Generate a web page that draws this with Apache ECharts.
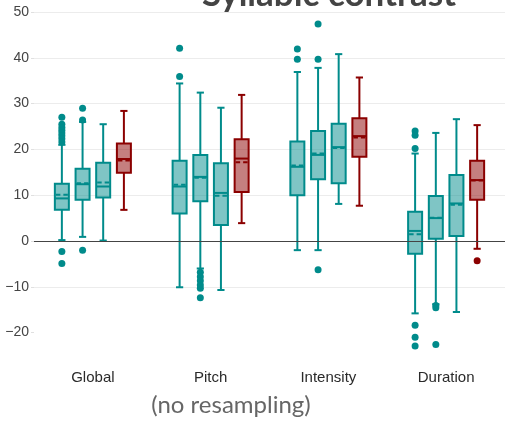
<!DOCTYPE html>
<html>
<head>
<meta charset="utf-8">
<script src="https://cdn.jsdelivr.net/npm/echarts@6/dist/echarts.min.js"></script>
<style>html,body{margin:0;padding:0;background:#fff;}#c{width:508px;height:422px;}</style>
</head>
<body>
<div id="c"></div>
<script>
// ---- data ----
const categories = ['Global', 'Pitch', 'Intensity', 'Duration'];
const yTicks = [-20, -10, 0, 10, 20, 30, 40, 50];

// series A (teal)
const aLow  = [0.2, -10.1, -2.0, -15.8];
const aQ1   = [6.8, 6.0, 10.0, -2.8];
const aMed  = [9.3, 11.9, 16.2, 2.2];
const aQ3   = [12.5, 17.5, 21.7, 6.4];
const aHigh = [21.0, 34.4, 36.9, 19.1];
const aMean = [10.1, 12.3, 16.5, 1.5];
const aOut  = [[0, 27.0], [0, 25.5], [0, 24.8], [0, 24.2], [0, 23.6], [0, 23.0], [0, 22.3], [0, 21.6], [0, -2.3], [0, -4.9],
               [1, 42.1], [1, 35.9],
               [2, 41.9], [2, 39.7],
               [3, 24.0], [3, 23.1], [3, 20.2], [3, -18.4], [3, -21.0], [3, -22.9]];

// series B (teal)
const bLow  = [0.9, -6.0, -2.0, -13.8];
const bQ1   = [9.0, 8.7, 13.5, 0.5];
const bMed  = [12.4, 14.0, 18.8, 5.0];
const bQ3   = [15.8, 18.8, 24.0, 9.8];
const bHigh = [26.0, 32.4, 37.8, 23.6];
const bMean = [12.6, 13.8, 19.1, 5.1];
const bOut  = [[0, 29.0], [0, 26.4], [0, -2.0],
               [1, -6.8], [1, -7.8], [1, -8.7], [1, -9.6], [1, -10.3], [1, -12.4],
               [2, 47.4], [2, 39.7], [2, -6.3],
               [3, -14.1], [3, -14.6], [3, -22.6]];

// series C (teal)
const cLow  = [0.1, -10.7, 8.1, -15.5];
const cQ1   = [9.5, 3.5, 12.6, 1.1];
const cMed  = [11.9, 10.5, 20.5, 8.2];
const cQ3   = [17.1, 17.0, 25.6, 14.4];
const cHigh = [25.5, 29.1, 40.8, 26.6];
const cMean = [12.8, 9.9, 20.3, 7.9];
const cOut  = [];

// series D (dark red)
const dLow  = [6.8, 3.9, 7.7, -1.7];
const dQ1   = [14.9, 10.7, 18.4, 9.0];
const dMed  = [17.9, 18.0, 22.9, 13.3];
const dQ3   = [21.3, 22.2, 26.8, 17.5];
const dHigh = [28.4, 31.9, 35.7, 25.3];
const dMean = [17.6, 17.2, 22.6, 13.2];
const dOut  = [[3, -4.3]];

// ---- styling ----
const TEAL = '#008b8b', TEAL_FILL = 'rgba(0,139,139,0.5)';
const RED = '#8b0000', RED_FILL = 'rgba(139,0,0,0.5)';
const offsetFrac = [-0.2634, -0.0875, 0.0875, 0.2634];

const groups = [
  {name: 'A', low: aLow, q1: aQ1, med: aMed, q3: aQ3, high: aHigh, mean: aMean, out: aOut, color: TEAL, fill: TEAL_FILL},
  {name: 'B', low: bLow, q1: bQ1, med: bMed, q3: bQ3, high: bHigh, mean: bMean, out: bOut, color: TEAL, fill: TEAL_FILL},
  {name: 'C', low: cLow, q1: cQ1, med: cMed, q3: cQ3, high: cHigh, mean: cMean, out: cOut, color: TEAL, fill: TEAL_FILL},
  {name: 'D', low: dLow, q1: dQ1, med: dMed, q3: dQ3, high: dHigh, mean: dMean, out: dOut, color: RED, fill: RED_FILL}
];

function makeBoxRender(gi, color, fill) {
  return function (params, api) {
    const cat = api.value(0);
    const band = api.size([1, 0])[0];
    const x = api.coord([cat, 0])[0] + offsetFrac[gi] * band;
    const Y = v => api.coord([cat, v])[1];
    const lo = Y(api.value(1)), q1 = Y(api.value(2)), md = Y(api.value(3)),
          q3 = Y(api.value(4)), hi = Y(api.value(5)), mn = Y(api.value(6));
    const hw = 7, cap = 3.6;
    const ls = {stroke: color, lineWidth: 2};
    return {
      type: 'group',
      children: [
        {type: 'line', shape: {x1: x, y1: q1, x2: x, y2: lo}, style: ls},
        {type: 'line', shape: {x1: x, y1: q3, x2: x, y2: hi}, style: ls},
        {type: 'line', shape: {x1: x - cap, y1: lo, x2: x + cap, y2: lo}, style: ls},
        {type: 'line', shape: {x1: x - cap, y1: hi, x2: x + cap, y2: hi}, style: ls},
        {type: 'rect', shape: {x: x - hw, y: q3, width: 2 * hw, height: q1 - q3}, style: {fill: fill, stroke: color, lineWidth: 2}},
        {type: 'line', shape: {x1: x - hw, y1: md, x2: x + hw, y2: md}, style: ls},
        {type: 'line', shape: {x1: x - 6, y1: mn, x2: x + 6, y2: mn}, style: {stroke: color, lineWidth: 2, lineDash: [4.5, 3]}}
      ]
    };
  };
}
function makeOutRender(gi, color) {
  return function (params, api) {
    const cat = api.value(0);
    const band = api.size([1, 0])[0];
    const p = api.coord([cat, api.value(1)]);
    return {type: 'circle', shape: {cx: p[0] + offsetFrac[gi] * band, cy: p[1], r: 3.5}, style: {fill: color}};
  };
}

const series = [
  {type: 'line', data: [], silent: true, z: 1,
   markLine: {silent: true, symbol: 'none', label: {show: false}, lineStyle: {color: '#444', width: 1, type: 'solid'},
              data: [{yAxis: 0}]}}
];
groups.forEach((g, gi) => {
  series.push({
    type: 'custom', name: g.name, renderItem: makeBoxRender(gi, g.color, g.fill),
    encode: {x: 0, y: [1, 2, 3, 4, 5, 6]},
    data: categories.map((c, i) => [i, g.low[i], g.q1[i], g.med[i], g.q3[i], g.high[i], g.mean[i]]),
    z: 3
  });
  if (g.out.length) {
    series.push({
      type: 'custom', name: g.name + ' outliers', renderItem: makeOutRender(gi, g.color),
      encode: {x: 0, y: 1}, data: g.out, z: 4
    });
  }
});

const chart = echarts.init(document.getElementById('c'), null, {renderer: 'canvas'});
chart.setOption({
  animation: false,
  backgroundColor: '#fff',
  grid: {left: 34, top: 12, width: 471, height: 366.4, containLabel: false},
  xAxis: {
    type: 'category', data: categories, offset: -16,
    axisLine: {show: false}, axisTick: {show: false}, splitLine: {show: false},
    axisLabel: {fontFamily: 'Liberation Sans', fontSize: 15, color: '#2a2a2a', margin: 8}
  },
  yAxis: {
    type: 'value', min: -30, max: 50, interval: 10,
    axisLine: {show: false},
    axisTick: {show: true, length: 3, customValues: yTicks, lineStyle: {color: '#e0e0e0'}},
    axisLabel: {customValues: yTicks, fontFamily: 'Liberation Sans', fontSize: 14, color: '#444', margin: 5,
                formatter: v => v < 0 ? '\u2212' + Math.abs(v) : String(v)},
    splitLine: {show: true, lineStyle: {color: ['rgba(0,0,0,0)', '#ececec', '#ececec', '#ececec', '#ececec', '#ececec', '#ececec', '#ececec', '#ececec'], width: 1}}
  },
  graphic: [
    {type: 'text', x: 329, y: -23, z: 10, style: {text: 'Syllabic contrast', font: 'bold 35px Lato', fill: '#444', textAlign: 'center'}},
    {type: 'text', x: 231, y: 393, z: 10, style: {text: '(no resampling)', font: '24px Lato', fill: '#666', textAlign: 'center'}}
  ],
  series: series
});
</script>
</body>
</html>
